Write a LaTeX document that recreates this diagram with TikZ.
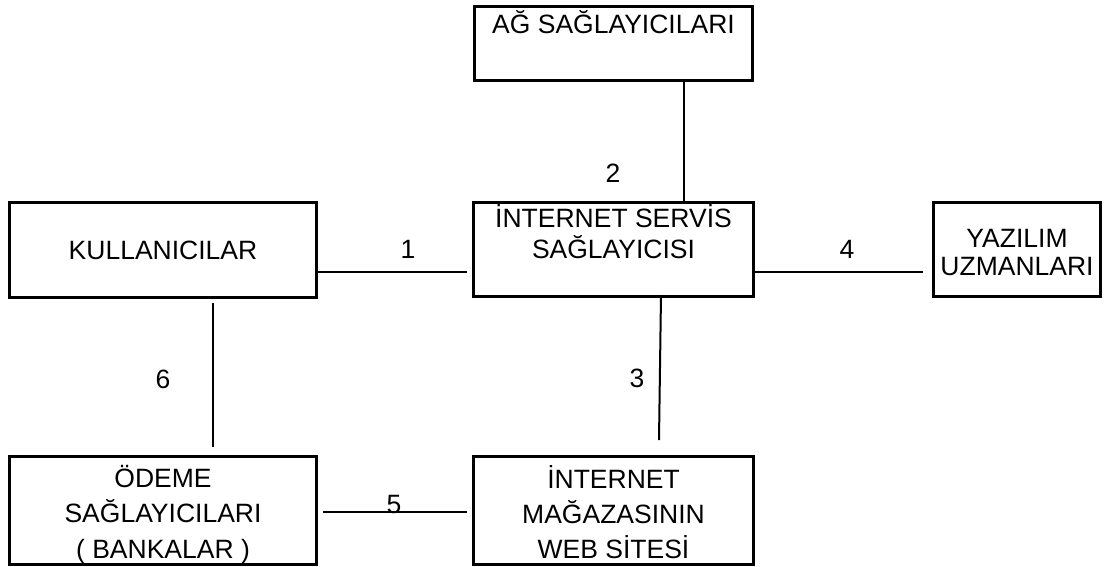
\documentclass[tikz,border=0pt]{standalone}
\usepackage{fontspec}
\setmainfont{Liberation Sans}
\begin{document}
\begin{tikzpicture}[x=1pt,y=-1pt,
  box/.style={draw, line width=3pt, align=center, inner sep=0pt},
  conn/.style={line width=2pt},
  lbl/.style={font=\fontsize{26.5}{30}\selectfont, inner sep=0pt, anchor=base}]
\useasboundingbox (0,0) rectangle (1104,566);
% boxes
\node[box, font=\fontsize{26.5}{30}\selectfont, minimum width=278pt, minimum height=74.5pt,
      text height=18pt, text depth=38.5pt] (ag) at (613.5,43.25) {AĞ SAĞLAYICILARI};
\node[box, font=\fontsize{26.5}{30}\selectfont, minimum width=307pt, minimum height=95pt] (kul) at (163,250) {KULLANICILAR};
\node[box, font=\fontsize{26.5}{31}\selectfont, minimum width=280pt, minimum height=94pt,
      text height=40pt, text depth=23pt] (iss) at (613.5,249.5) {İNTERNET SERVİS\\SAĞLAYICISI};
\node[box, font=\fontsize{26.5}{28}\selectfont, minimum width=167pt, minimum height=94pt,
      text height=55pt, text depth=4pt] (yaz) at (1017,249.5) {YAZILIM\\UZMANLARI};
\node[box, font=\fontsize{26.5}{35.5}\selectfont, minimum width=307pt, minimum height=108pt,
      text height=100pt, text depth=5pt] (ode) at (163,510.5) {ÖDEME\\SAĞLAYICILARI\\( BANKALAR )};
\node[box, font=\fontsize{26.5}{35}\selectfont, minimum width=280pt, minimum height=108pt,
      text height=100pt, text depth=5pt] (web) at (613.5,510.5) {İNTERNET\\MAĞAZASININ\\WEB SİTESİ};
% connector ends
\coordinate (y1) at (0,272);
\coordinate (e1) at (467,272);
\coordinate (x2) at (684,0);
\coordinate (s3) at (661,295);
\coordinate (e3) at (659,440);
\coordinate (e4) at (923,272);
\coordinate (s5) at (323,512);
\coordinate (e5) at (467,512);
\coordinate (s6) at (213,303);
\coordinate (e6) at (213,447);
% connectors
\draw[conn] (kul.east |- y1) -- (e1);
\draw[conn] (ag.south -| x2) -- (iss.north -| x2);
\draw[conn] (s3) -- (e3);
\draw[conn] (iss.east |- y1) -- (e4);
\draw[conn] (s5) -- (e5);
\draw[conn] (s6) -- (e6);
% labels
\node[lbl] (l1) at (408,258) {1};
\node[lbl] (l2) at (613,182) {2};
\node[lbl] (l3) at (637,387) {3};
\node[lbl] (l4) at (847,258) {4};
\node[lbl] (l5) at (394,513) {5};
\node[lbl] (l6) at (163,388) {6};
\end{tikzpicture}
\end{document}
